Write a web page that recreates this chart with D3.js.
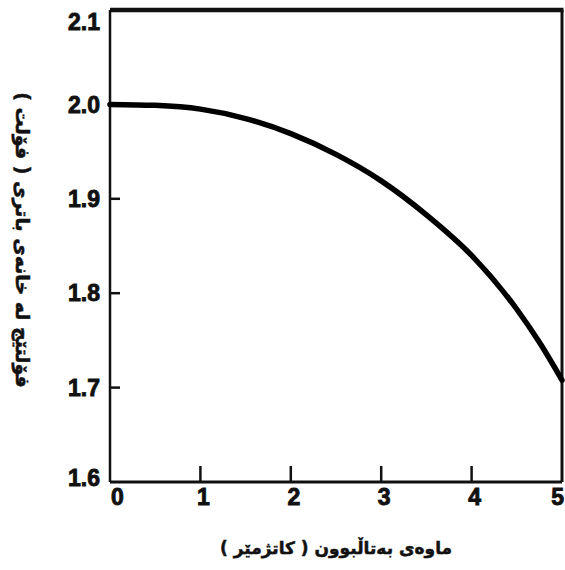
<!DOCTYPE html>
<html lang="ckb">
<head>
<meta charset="UTF-8">
<title>Battery discharge</title>
<style>
	body { margin: 0; background: #fff; }
	.tick-label {
		font-family: "Liberation Sans", Arial, sans-serif;
		font-weight: bold;
		font-size: 23px;
		fill: #111;
		stroke: #111;
		stroke-width: 0.9px;
	}
	.title {
		font-family: "DejaVu Sans", "Noto Sans", sans-serif;
		font-weight: bold;
		font-size: 17px;
		fill: #111;
		stroke: #111;
		stroke-width: 0.5px;
	}
</style>
<script src="https://d3js.org/d3.v7.min.js"></script>
</head>
<body>
<script>
// data
var hours   = [0, 0.5, 1, 1.5, 2, 2.5, 3, 3.5, 4, 4.5, 4.75, 5];
var voltage = [2.0, 1.999, 1.995, 1.985, 1.969, 1.947, 1.919, 1.883, 1.840, 1.783, 1.748, 1.708];
var xTicks = [0, 1, 2, 3, 4, 5];
var yTicks = [1.6, 1.7, 1.8, 1.9, 2.0, 2.1];
var xTitle = "ماوەی بەتاڵبوون ( کاتژمێر )";
var yTitle = "فۆلتێج لە خانەی باتری ( فۆلت )";

const w = 565, h = 570;
const pLeft = 110, pRight = 562, pTop = 10, pBottom = 482;

const svg = d3.select("body").append("svg")
	.attr("width", w).attr("height", h);

var x = d3.scaleLinear().domain([0, 5]).range([pLeft, pRight]);
var y = d3.scaleLinear().domain([1.6, 2.1]).range([pBottom, pTop]);

// inner ticks
svg.append("g").selectAll("line")
	.data(yTicks.filter(d => d > 1.6 && d < 2.1)).enter()
	.append("line")
	.attr("x1", pLeft).attr("x2", pLeft + 10)
	.attr("y1", d => y(d)).attr("y2", d => y(d))
	.attr("stroke", "#111").attr("stroke-width", 2.5);

svg.append("g").selectAll("line")
	.data(xTicks.filter(d => d > 0 && d < 5)).enter()
	.append("line")
	.attr("x1", d => x(d)).attr("x2", d => x(d))
	.attr("y1", pBottom).attr("y2", pBottom - 16)
	.attr("stroke", "#111").attr("stroke-width", 2.5);

// frame
svg.append("line").attr("x1", pLeft).attr("x2", pLeft).attr("y1", pTop).attr("y2", pBottom)
	.attr("stroke", "#111").attr("stroke-width", 2.5);
svg.append("line").attr("x1", pLeft).attr("x2", pRight).attr("y1", pBottom).attr("y2", pBottom)
	.attr("stroke", "#111").attr("stroke-width", 3);
svg.append("line").attr("x1", pRight).attr("x2", pRight).attr("y1", pTop).attr("y2", pBottom)
	.attr("stroke", "#111").attr("stroke-width", 3);
svg.append("line").attr("x1", pLeft).attr("x2", pRight + 1.5).attr("y1", pTop).attr("y2", pTop)
	.attr("stroke", "#111").attr("stroke-width", 4.5);

// tick labels
svg.append("g").selectAll("text")
	.data(yTicks).enter()
	.append("text")
	.attr("class", "tick-label")
	.attr("x", pLeft - 10)
	.attr("y", d => d === 2.1 ? y(d) + 12 : d === 1.6 ? y(d) - 4 : y(d))
	.attr("dy", "0.36em")
	.attr("text-anchor", "end")
	.text(d => d.toFixed(1));

svg.append("g").selectAll("text")
	.data(xTicks).enter()
	.append("text")
	.attr("class", "tick-label")
	.attr("x", d => d === 0 ? x(d) + 1 : d === 5 ? x(d) + 2 : x(d) + 3)
	.attr("y", 505)
	.attr("text-anchor", d => d === 0 ? "start" : d === 5 ? "end" : "middle")
	.text(d => d);

// curve
var line = d3.line()
	.x((d, i) => x(hours[i]))
	.y(d => y(d))
	.curve(d3.curveMonotoneX);

svg.append("path")
	.datum(voltage)
	.attr("d", line)
	.attr("fill", "none")
	.attr("stroke", "#000")
	.attr("stroke-width", 5.5)
	.attr("stroke-linecap", "round");

// titles
svg.append("text")
	.attr("class", "title")
	.attr("x", 336).attr("y", 554)
	.attr("text-anchor", "middle")
	.attr("direction", "rtl")
	.text(xTitle);

svg.append("text")
	.attr("class", "title")
	.style("font-size", "19px")
	.attr("transform", "translate(16,240) rotate(90)")
	.attr("text-anchor", "middle")
	.attr("direction", "rtl")
	.text(yTitle);
</script>
</body>
</html>
